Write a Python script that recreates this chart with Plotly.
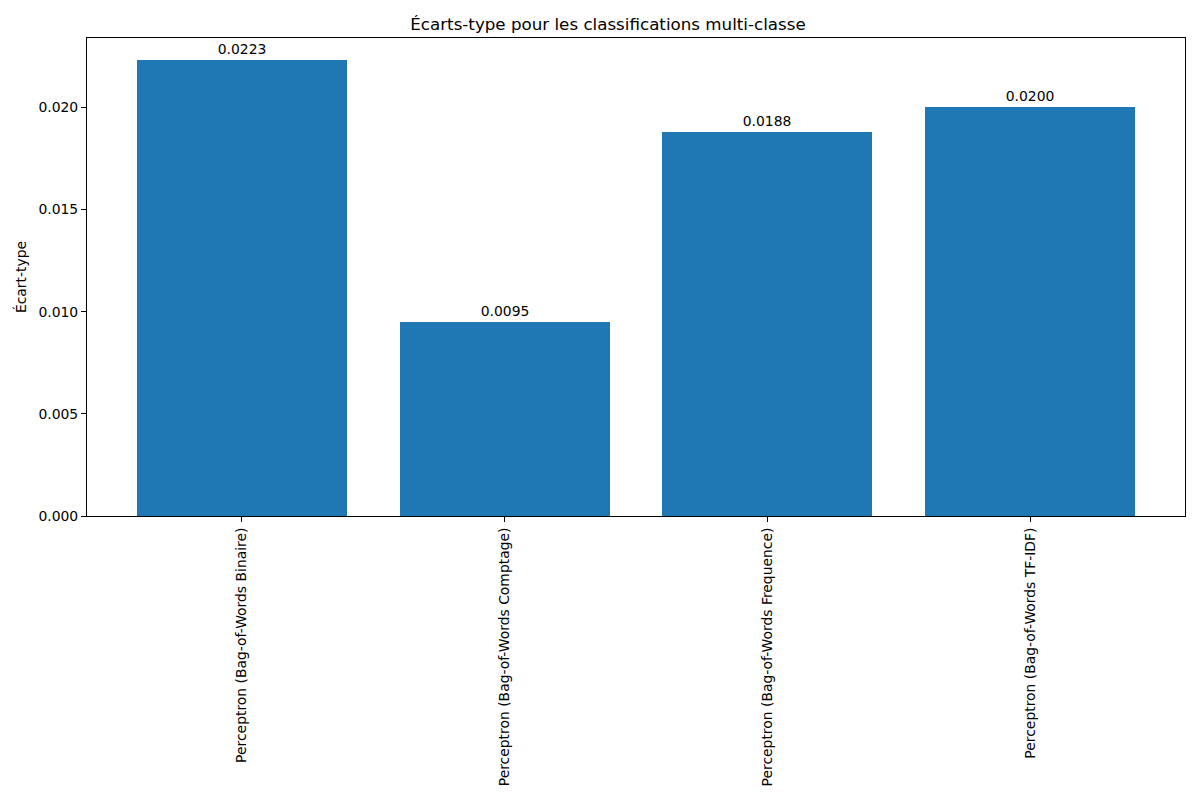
import plotly.graph_objects as go

# Data
models = [
    "Perceptron (Bag-of-Words Binaire)",
    "Perceptron (Bag-of-Words Comptage)",
    "Perceptron (Bag-of-Words Frequence)",
    "Perceptron (Bag-of-Words TF-IDF)",
]
std_values = [0.0223, 0.0095, 0.0188, 0.0200]
y_ticks = [0.0, 0.005, 0.010, 0.015, 0.020]

font_family = "DejaVu Sans"

fig = go.Figure(
    go.Bar(
        x=list(range(len(models))),
        y=std_values,
        width=0.8,
        marker=dict(color="#1f77b4", line=dict(width=0)),
        texttemplate="%{y:.4f}",
        textposition="outside",
        textfont=dict(family=font_family, size=13.9, color="black"),
        cliponaxis=False,
    )
)

fig.update_layout(
    width=1200,
    height=800,
    plot_bgcolor="white",
    paper_bgcolor="white",
    margin=dict(l=79, r=23, t=30, b=292),
    font=dict(family=font_family, size=13.9, color="black"),
    title=dict(
        text="Écarts-type pour les classifications multi-classe",
        x=0.5, xanchor="center", y=0.98, yanchor="middle",
        font=dict(family=font_family, size=16.7, color="black"),
    ),
    showlegend=False,
    bargap=0,
)

fig.update_xaxes(
    range=[-0.59, 3.59],
    tickmode="array",
    tickvals=list(range(len(models))),
    ticktext=models,
    tickangle=-90,
    ticks="outside",
    ticklen=5,
    tickcolor="black",
    showline=True,
    linecolor="black",
    linewidth=1,
    mirror=True,
    showgrid=False,
    zeroline=False,
)

fig.update_yaxes(
    range=[0, 0.0234],
    tickmode="array",
    tickvals=y_ticks,
    ticktext=[f"{v:.3f}" for v in y_ticks],
    ticks="outside",
    ticklen=5,
    tickcolor="black",
    showline=True,
    linecolor="black",
    linewidth=1,
    mirror=True,
    showgrid=False,
    zeroline=False,
    title=dict(text="Écart-type", font=dict(family=font_family, size=13.9), standoff=8),
)

fig.write_html("out.html")
